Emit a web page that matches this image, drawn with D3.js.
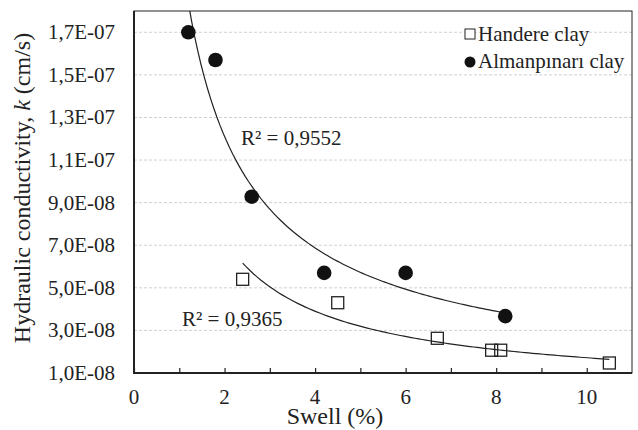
<!DOCTYPE html>
<html>
<head>
<meta charset="utf-8">
<script src="https://cdn.jsdelivr.net/npm/d3@7"></script>
<style>
  body { margin: 0; background: #fff; }
</style>
</head>
<body>
<div id="chart"></div>
<script>
// Swell (%) vs hydraulic conductivity k (cm/s)
const handereSwell = [2.4, 4.5, 6.7, 7.9, 8.1, 10.5];
const handereK = [5.4e-8, 4.3e-8, 2.63e-8, 2.07e-8, 2.07e-8, 1.47e-8];
const almanSwell = [1.2, 1.8, 2.6, 4.2, 6.0, 8.2];
const almanK = [1.7e-7, 1.57e-7, 9.28e-8, 5.7e-8, 5.7e-8, 3.67e-8];

const yTicks = [1e-8, 3e-8, 5e-8, 7e-8, 9e-8, 1.1e-7, 1.3e-7, 1.5e-7, 1.7e-7];
const yTickLabels = ['1,0E-08', '3,0E-08', '5,0E-08', '7,0E-08', '9,0E-08', '1,1E-07', '1,3E-07', '1,5E-07', '1,7E-07'];
const xTicks = [0, 2, 4, 6, 8, 10];
const r2Labels = ['R² = 0,9365', 'R² = 0,9552'];
const seriesNames = ['Handere clay', 'Almanpınarı clay'];

const FONT = 'Liberation Serif';
const width = 638, height = 430;
const margin = { top: 11, right: 6, bottom: 57, left: 134 };
const innerWidth = width - margin.left - margin.right;
const innerHeight = height - margin.top - margin.bottom;

const svg = d3.select('#chart').append('svg')
  .attr('width', width)
  .attr('height', height)
  .style('font-family', FONT);

const g = svg.append('g')
  .attr('transform', `translate(${margin.left},${margin.top})`);

const x = d3.scaleLinear().domain([0, 11]).range([0, innerWidth]);
const y = d3.scaleLinear().domain([1e-8, 1.8e-7]).range([innerHeight, 0]);

// gridlines
g.selectAll('.grid')
  .data(yTicks.slice(1))
  .join('line')
  .attr('x1', 0)
  .attr('x2', innerWidth)
  .attr('y1', d => y(d))
  .attr('y2', d => y(d))
  .attr('stroke', '#d0d0d0')
  .attr('stroke-width', 1)
  .attr('stroke-dasharray', '3,2');

// y tick labels
g.selectAll('.ylab')
  .data(yTicks)
  .join('text')
  .attr('x', -19)
  .attr('y', d => y(d) + 7)
  .attr('text-anchor', 'end')
  .style('font-family', FONT)
  .attr('font-size', 21)
  .attr('fill', '#222')
  .text((d, i) => yTickLabels[i]);

// x axis: inward minor ticks every 1, labels every 2
const xAxis = d3.axisBottom(x)
  .tickValues(d3.range(0, 11))
  .tickSize(-5)
  .tickFormat('');
g.append('g')
  .attr('transform', `translate(0,${innerHeight})`)
  .call(xAxis)
  .call(a => a.select('.domain').remove())
  .call(a => a.selectAll('line').attr('stroke', '#222').attr('stroke-width', 1.2));

g.selectAll('.xlab')
  .data(xTicks)
  .join('text')
  .attr('x', d => x(d))
  .attr('y', innerHeight + 31)
  .attr('text-anchor', 'middle')
  .style('font-family', FONT)
  .attr('font-size', 21)
  .attr('fill', '#222')
  .text(d => d);

// plot frame
g.append('rect')
  .attr('width', innerWidth)
  .attr('height', innerHeight)
  .attr('fill', 'none')
  .attr('stroke', '#222')
  .attr('stroke-width', 1);
g.append('path')
  .attr('d', `M0,0V${innerHeight}H${innerWidth}`)
  .attr('fill', 'none')
  .attr('stroke', '#222')
  .attr('stroke-width', 2);

// power trendlines (least squares in log space, like a spreadsheet power fit)
function powerFit(xs, ys) {
  const lx = xs.map(Math.log), ly = ys.map(Math.log);
  const mx = d3.mean(lx), my = d3.mean(ly);
  const b = d3.sum(lx, (v, i) => (v - mx) * (ly[i] - my)) / d3.sum(lx, v => (v - mx) ** 2);
  const a = Math.exp(my - b * mx);
  return t => a * Math.pow(t, b);
}

svg.append('defs').append('clipPath').attr('id', 'plot-clip')
  .append('rect').attr('width', innerWidth).attr('height', innerHeight);

const line = d3.line().x(d => x(d[0])).y(d => y(d[1]));
[[handereSwell, handereK], [almanSwell, almanK]].forEach(([xs, ys]) => {
  const f = powerFit(xs, ys);
  const lo = d3.min(xs), hi = d3.max(xs);
  const pts = d3.range(0, 101).map(i => {
    const t = lo + (hi - lo) * i / 100;
    return [t, f(t)];
  });
  g.append('path')
    .datum(pts)
    .attr('clip-path', 'url(#plot-clip)')
    .attr('d', line)
    .attr('fill', 'none')
    .attr('stroke', '#222')
    .attr('stroke-width', 1.2);
});

// Handere points (open squares)
const sq = 12;
g.selectAll('.hand')
  .data(handereSwell)
  .join('rect')
  .attr('x', d => x(d) - sq / 2)
  .attr('y', (d, i) => y(handereK[i]) - sq / 2)
  .attr('width', sq)
  .attr('height', sq)
  .attr('fill', 'none')
  .attr('stroke', '#222')
  .attr('stroke-width', 1.3);

// Almanpinari points (filled circles)
g.selectAll('.alm')
  .data(almanSwell)
  .join('circle')
  .attr('cx', d => x(d))
  .attr('cy', (d, i) => y(almanK[i]))
  .attr('r', 7.3)
  .attr('fill', '#111');

// R² labels
svg.append('text')
  .attr('x', 182).attr('y', 326)
  .style('font-family', FONT)
  .attr('font-size', 21).attr('fill', '#222')
  .text(r2Labels[0]);
svg.append('text')
  .attr('x', 241).attr('y', 145)
  .style('font-family', FONT)
  .attr('font-size', 21).attr('fill', '#222')
  .text(r2Labels[1]);

// legend
const legend = svg.append('g').attr('transform', 'translate(465,0)');
legend.append('rect')
  .attr('x', 0).attr('y', 29)
  .attr('width', 10).attr('height', 10)
  .attr('fill', '#fff').attr('stroke', '#222').attr('stroke-width', 1);
legend.append('circle')
  .attr('cx', 5).attr('cy', 62).attr('r', 5.5)
  .attr('fill', '#111');
legend.selectAll('.ltxt')
  .data(seriesNames)
  .join('text')
  .attr('x', 13)
  .attr('y', (d, i) => 41 + i * 27)
  .style('font-family', FONT)
  .attr('font-size', 21)
  .attr('fill', '#222')
  .text(d => d);

// axis titles
svg.append('text')
  .attr('x', 335)
  .attr('y', 424)
  .attr('text-anchor', 'middle')
  .style('font-family', FONT)
  .attr('font-size', 24)
  .attr('fill', '#222')
  .text('Swell (%)');

const yTitle = svg.append('text')
  .attr('transform', 'translate(30,188) rotate(-90)')
  .attr('text-anchor', 'middle')
  .style('font-family', FONT)
  .attr('font-size', 24)
  .attr('fill', '#222');
yTitle.append('tspan').text('Hydraulic conductivity, ');
yTitle.append('tspan').attr('font-style', 'italic').text('k');
yTitle.append('tspan').text(' (cm/s)');
</script>
</body>
</html>
